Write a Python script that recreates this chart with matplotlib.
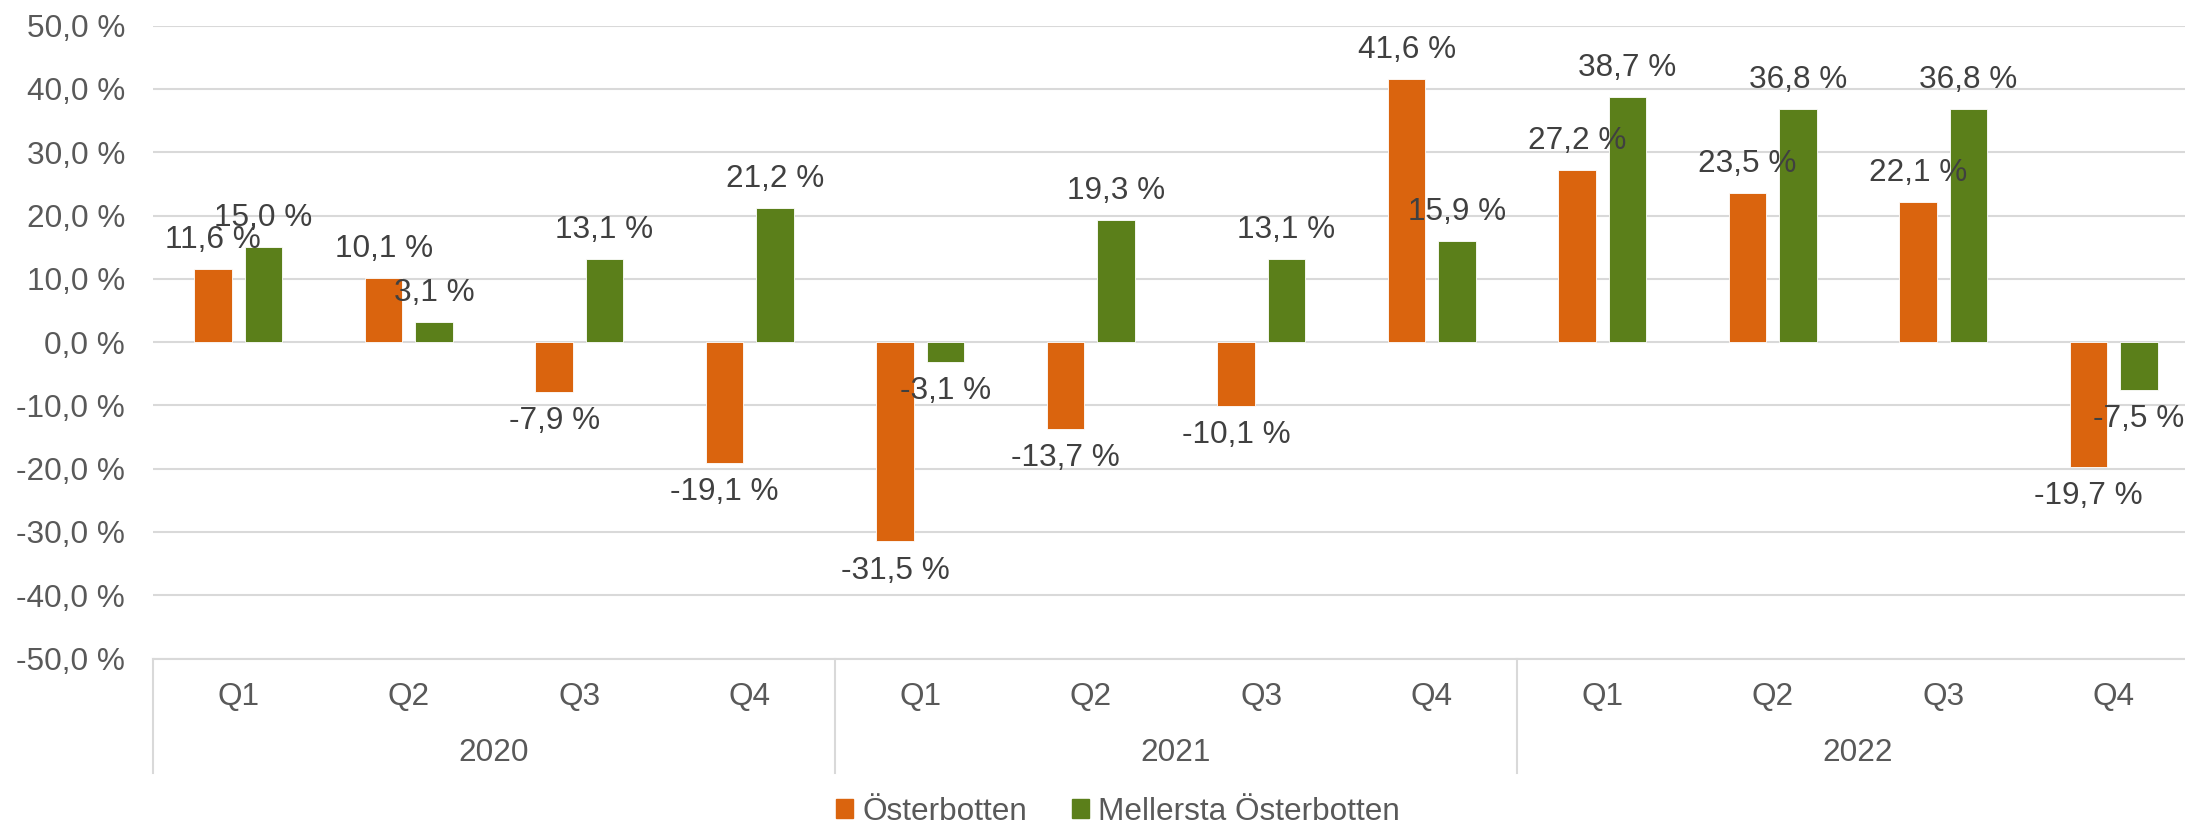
import matplotlib.pyplot as plt
import matplotlib.transforms as mtransforms
from matplotlib.patches import Patch
import numpy as np

plt.rcParams['font.family'] = ['Liberation Sans', 'DejaVu Sans']

# Data
quarters = ['Q1', 'Q2', 'Q3', 'Q4'] * 3
years = ['2020', '2021', '2022']
osterbotten = [11.6, 10.1, -7.9, -19.1, -31.5, -13.7, -10.1, 41.6, 27.2, 23.5, 22.1, -19.7]
mellersta = [15.0, 3.1, 13.1, 21.2, -3.1, 19.3, 13.1, 15.9, 38.7, 36.8, 36.8, -7.5]
series_names = ['Österbotten', 'Mellersta Österbotten']

# Colors
c_orange = '#DA640E'
c_green = '#5B7F1A'
c_grid = '#D9D9D9'
c_tick = '#595959'
c_label = '#404040'
fs = 22.7

W, H = 2185, 825
fig = plt.figure(figsize=(W / 100, H / 100), dpi=100)
# axes placed in pixel coordinates of the reference
left, right, top, bottom = 153, 2199, 25.7, 658.5
ax = fig.add_axes([left / W, 1 - bottom / H, (right - left) / W, (bottom - top) / H])

x = np.arange(len(quarters))
bw = 0.22
off = 0.147
ax.bar(x - off, osterbotten, bw, color=c_orange, edgecolor='white', linewidth=0.6, zorder=3)
ax.bar(x + off, mellersta, bw, color=c_green, edgecolor='white', linewidth=0.6, zorder=3)

def fmt(v):
    return f'{v:.1f} %'.replace('.', ',')

for xs, vals in ((x - off, osterbotten), (x + off, mellersta)):
    for xi, v in zip(xs, vals):
        dy = 21 if v >= 0 else -21
        ax.annotate(fmt(v), (xi, v), xytext=(0, dy), textcoords='offset points',
                    ha='center', va='center', fontsize=fs, color=c_label, zorder=5)

ax.set_xlim(-0.5, len(quarters) - 0.5)
ax.set_ylim(-50, 50)
ax.set_yticks(np.arange(-50, 51, 10))
ax.set_yticklabels([fmt(t) for t in np.arange(-50, 51, 10)], fontsize=fs, color=c_tick)
ax.tick_params(axis='y', length=0, pad=20)
ax.set_xticks([])
ax.grid(axis='y', color=c_grid, linewidth=1.5, zorder=0)
for s in ('top', 'right', 'left'):
    ax.spines[s].set_visible(False)
ax.spines['bottom'].set_color(c_grid)
ax.spines['bottom'].set_linewidth(1.5)

# multi-level category axis
trans = mtransforms.blended_transform_factory(ax.transData, ax.transAxes)
ah = bottom - top
for xi, q in zip(x, quarters):
    ax.text(xi, -(697 - bottom) / ah, q, transform=trans, ha='center', va='center',
            fontsize=fs, color=c_tick)
for i, yr in enumerate(years):
    ax.text(i * 4 + 1.5, -(753 - bottom) / ah, yr, transform=trans, ha='center', va='center',
            fontsize=fs, color=c_tick)
for b in (-0.5, 3.5, 7.5, 11.5):
    ax.plot([b, b], [0, -(773 - bottom) / ah], transform=trans, color=c_grid,
            linewidth=1.5, clip_on=False)

handles = [Patch(color=c_orange), Patch(color=c_green)]
fig.legend(handles, series_names, loc='center', bbox_to_anchor=(1118 / W, 1 - 812 / H),
           ncol=2, frameon=False, fontsize=fs, labelcolor=c_tick,
           handlelength=0.55, handleheight=0.55, handletextpad=0.3, columnspacing=1.4)

fig.savefig('out.png', dpi=100, facecolor='white')
